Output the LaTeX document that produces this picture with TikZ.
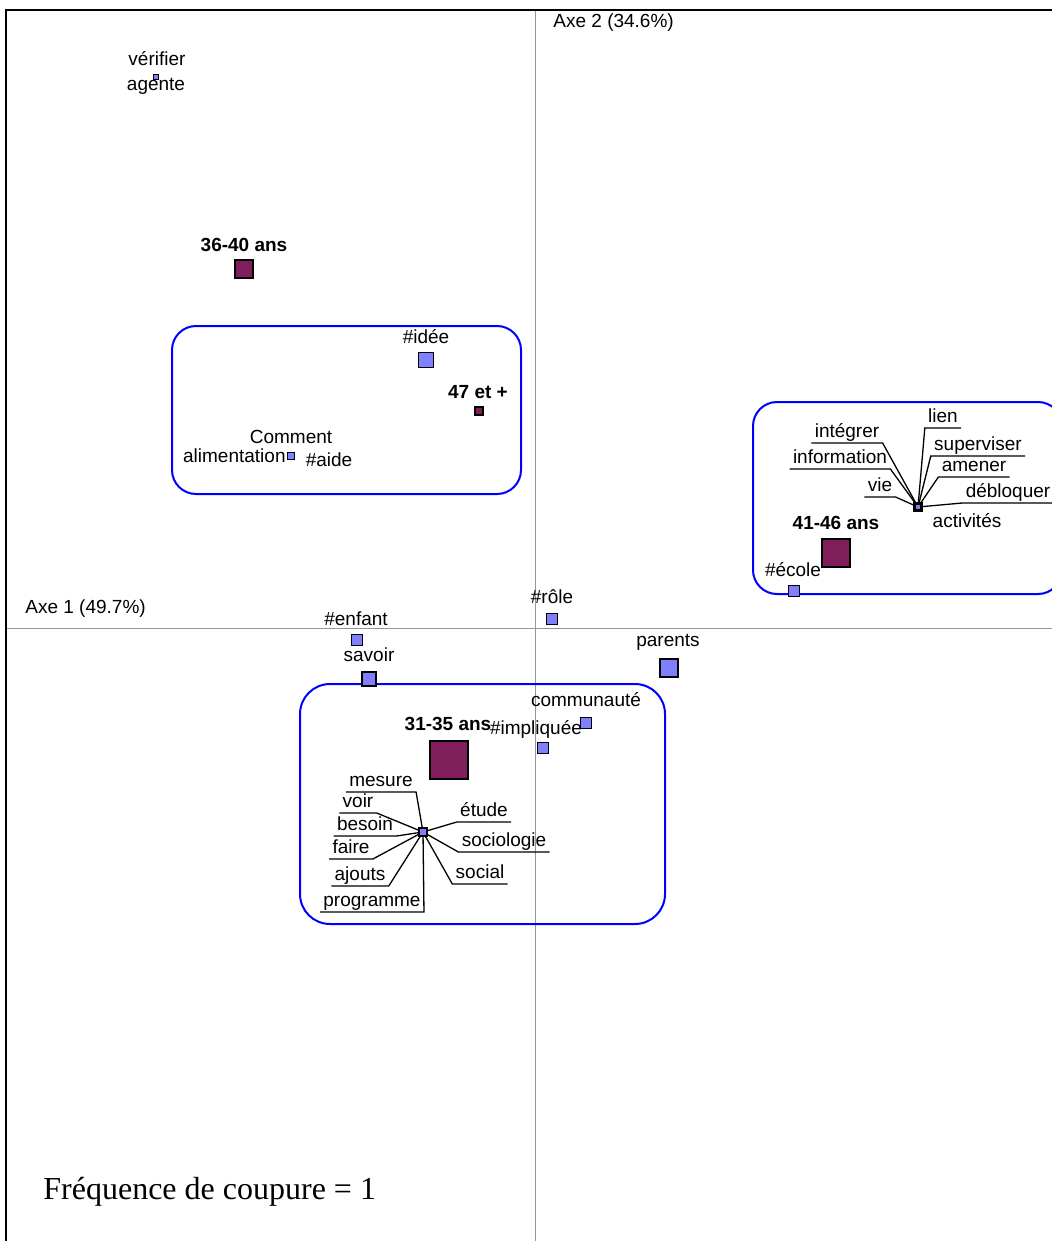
\documentclass[tikz,border=0pt]{standalone}
\usepackage{fontspec}
\setmainfont{Liberation Sans}
\newfontfamily\timesf{Liberation Serif}
\definecolor{maroonsq}{RGB}{128,30,92}
\definecolor{bluesq}{RGB}{128,128,255}
\definecolor{axisgray}{RGB}{150,150,150}
\tikzset{
 lbl/.style={font=\fontsize{9.5}{11}\selectfont, inner sep=0pt, yshift=-0.8pt},
 bl/.style={font=\fontsize{9.5}{11}\selectfont\bfseries, inner sep=0pt, yshift=-0.8pt},
 wsq/.style={draw=black, line width=0.8pt, fill=bluesq, inner sep=0pt, minimum size=#1},
 msq/.style={draw=black, line width=0.8pt, fill=maroonsq, inner sep=0pt, minimum size=#1},
 hubsq/.style={draw=black, line width=1.4pt, fill=bluesq, inner sep=0pt, minimum size=3.5pt},
 ul/.style={font=\fontsize{9.5}{11}\selectfont, anchor=south, inner xsep=1.5pt, inner ysep=0.3pt, text depth=2.2pt},
 leader/.style={draw=black, line width=0.65pt},
 grp/.style={draw=blue, line width=1pt},
 axisline/.style={draw=axisgray, line width=0.5pt},
}
\begin{document}
\begin{tikzpicture}[x=0.5pt,y=-0.5pt]
\useasboundingbox (0,0) rectangle (1052,1241);
\clip (0,0) rectangle (1052,1241);
% frame and axes
\draw[axisline] (535,10) -- (535,1241);
\draw[axisline] (6,628) -- (1052,628);
\draw[line width=1pt] (6,1241) -- (6,10) -- (1052,10);
\node[lbl, anchor=west] (axe2) at (553,21) {Axe 2 (34.6\%)};
\node[lbl, anchor=west] (axe1) at (25,607) {Axe 1 (49.7\%)};
% group boxes
\draw[grp, rounded corners=12pt] (172,326) rectangle (521,494);
\draw[grp, rounded corners=12pt] (753,402) rectangle (1062,594);
\draw[grp, rounded corners=15pt] (300,684) rectangle (665,924);
% top left
\node[lbl] (verifier) at (157,57) {vérifier};
\node[lbl] (agente) at (156,85) {agente};
\node[wsq=2.5pt] (sAgente) at (156,77) {};
\node[bl] (l3640) at (244,243) {36-40 ans};
\node[msq=9pt] (s3640) at (244,269) {};
% middle group
\node[lbl] (tIdee) at (426,335) {\#idée};
\node[wsq=7.5pt] (sIdee) at (426,360) {};
\node[bl] (l47) at (478,390) {47 et +};
\node[msq=4pt] (s47) at (479,411) {};
\node[lbl] (tComment) at (291,435) {Comment};
\node[lbl, anchor=east] (tAlim) at (286,454) {alimentation};
\node[wsq=3.5pt] (sAlim) at (291,456) {};
\node[lbl] (tAide) at (329,458) {\#aide};
% right group
\coordinate (h2) at (918,507);
\node[ul] (integrer) at (847,443) {intégrer};
\node[ul] (information) at (840,469) {information};
\node[ul] (vie) at (880,497) {vie};
\node[ul] (lien) at (943,428) {lien};
\node[ul] (superviser) at (978,456) {superviser};
\node[ul] (amener) at (974,477) {amener};
\node[ul] (debloquer) at (1008,503) {débloquer};
\draw[leader] (h2) -- (integrer.south east) -- (integrer.south west);
\draw[leader] (h2) -- (information.south east) -- (information.south west);
\draw[leader] (h2) -- (vie.south east) -- (vie.south west);
\draw[leader] (h2) -- (lien.south west) -- (lien.south east);
\draw[leader] (h2) -- (superviser.south west) -- (superviser.south east);
\draw[leader] (h2) -- (amener.south west) -- (amener.south east);
\draw[leader] (h2) -- (debloquer.south west) -- (debloquer.south east);
\node[hubsq] (hub2) at (h2) {};
\node[lbl] (activites) at (967,519) {activités};
\node[bl] (l4146) at (836,521) {41-46 ans};
\node[msq=14pt] (s4146) at (836,553) {};
\node[lbl] (tEcole) at (793,568) {\#école};
\node[wsq=5.5pt] (sEcole) at (794,591) {};
% around axis
\node[lbl] (tEnfant) at (356,617) {\#enfant};
\node[wsq=5.5pt] (sEnfant) at (357,640) {};
\node[lbl] (tSavoir) at (369,653) {savoir};
\node[wsq=7pt] (sSavoir) at (369,679) {};
\node[lbl] (tRole) at (552,595) {\#rôle};
\node[wsq=5.5pt] (sRole) at (552,619) {};
\node[lbl] (tParents) at (668,641) {parents};
\node[wsq=9pt] (sParents) at (669,668) {};
% bottom group
\node[bl] (l3135) at (448,722) {31-35 ans};
\node[msq=19pt] (s3135) at (449,760) {};
\node[lbl] (tComm) at (586,698) {communauté};
\node[wsq=5.5pt] (sComm) at (586,723) {};
\node[lbl] (tImpl) at (536,728) {\#impliquée};
\node[wsq=5.5pt] (sImpl) at (543,748) {};
\coordinate (h1) at (423,832);
\node[ul] (mesure) at (381,792) {mesure};
\node[ul] (voir) at (358,813) {voir};
\node[ul] (besoin) at (365,836) {besoin};
\node[ul] (faire) at (351,859) {faire};
\node[ul] (ajouts) at (360,886) {ajouts};
\node[ul] (programme) at (372,912) {programme};
\node[ul] (etude) at (484,822) {étude};
\node[ul] (sociologie) at (504,852) {sociologie};
\node[ul] (social) at (480,884) {social};
\draw[leader] (h1) -- (mesure.south east) -- (mesure.south west);
\draw[leader] (h1) -- (voir.south east) -- (voir.south west);
\draw[leader] (h1) -- (besoin.south east) -- (besoin.south west);
\draw[leader] (h1) -- (faire.south east) -- (faire.south west);
\draw[leader] (h1) -- (ajouts.south east) -- (ajouts.south west);
\draw[leader] (h1) -- (programme.south east) -- (programme.south west);
\draw[leader] (h1) -- (etude.south west) -- (etude.south east);
\draw[leader] (h1) -- (sociologie.south west) -- (sociologie.south east);
\draw[leader] (h1) -- (social.south west) -- (social.south east);
\node[hubsq, minimum size=4pt] (hub1) at (h1) {};
% caption
\node[font=\timesf\fontsize{16}{19}\selectfont, anchor=west, inner sep=0pt] (freq) at (43,1192) {Fréquence de coupure = 1};
\end{tikzpicture}
\end{document}
